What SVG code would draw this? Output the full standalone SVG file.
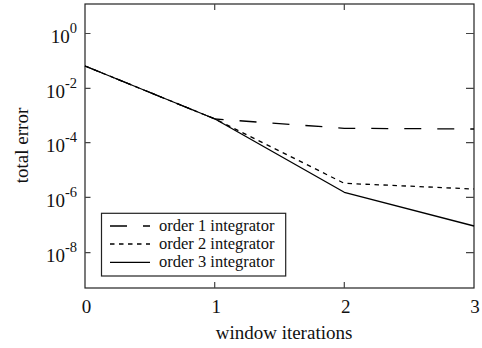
<svg xmlns="http://www.w3.org/2000/svg" width="482" height="348" viewBox="0 0 482 348">
  <style>
    .frame { fill: none; stroke: #222; stroke-width: 1.2; }
    .tick { stroke: #444; stroke-width: 1.2; fill: none; }
    .curve { fill: none; stroke: #000; stroke-width: 1.3; stroke-linejoin: round; }
    .o1 { stroke-dasharray: 17 16; }
    .o2 { stroke-dasharray: 4.5 4.5; }
    .lbl { font-family: "Liberation Serif", "Times New Roman", serif; font-size: 19px; fill: #111; }
    .leg { font-family: "Liberation Serif", "Times New Roman", serif; font-size: 16.5px; fill: #111; }
  </style>
  <rect width="482" height="348" fill="#fff"/>

  <!-- plot frame with inward ticks -->
  <g id="axes">
    <rect class="frame" x="85" y="4" width="389" height="284"/>
    <path class="tick" d="M85 33.5h5.5M85 88.3h5.5M85 142.7h5.5M85 197.3h5.5M85 252.7h5.5
                          M474 33.5h-8M474 88.3h-8M474 142.7h-8M474 197.3h-8M474 252.7h-8
                          M214.7 288v-6M344.3 288v-6M214.7 4v6M344.3 4v6"/>
  </g>

  <!-- axis numbers and titles -->
  <g id="labels">
    <text class="lbl" x="77" y="43.3" text-anchor="end">10<tspan dy="-10" font-size="14.5">0</tspan></text>
    <text class="lbl" x="77" y="97.8" text-anchor="end">10<tspan dy="-10" font-size="14.5">-2</tspan></text>
    <text class="lbl" x="77" y="151.7" text-anchor="end">10<tspan dy="-10" font-size="14.5">-4</tspan></text>
    <text class="lbl" x="77" y="206.5" text-anchor="end">10<tspan dy="-10" font-size="14.5">-6</tspan></text>
    <text class="lbl" x="77" y="261.8" text-anchor="end">10<tspan dy="-10" font-size="14.5">-8</tspan></text>
    <text class="lbl" x="86.5" y="313" text-anchor="middle">0</text>
    <text class="lbl" x="216.2" y="313" text-anchor="middle">1</text>
    <text class="lbl" x="345.8" y="313" text-anchor="middle">2</text>
    <text class="lbl" x="475" y="313" text-anchor="middle">3</text>
    <text class="lbl" x="284" y="339" text-anchor="middle">window iterations</text>
    <text class="lbl" transform="translate(28 145.5) rotate(-90)" text-anchor="middle">total error</text>
  </g>

  <!-- error curves -->
  <g id="connectors">
    <polyline class="curve" points="85,66 215,119 344.3,192.3 474,226"/>
    <polyline class="curve o2" points="85,66 215,119 344.3,183.3 474,189"/>
    <polyline class="curve o1" points="85,66 215,119 344.3,128.3 474,129"/>
  </g>

  <!-- legend -->
  <g id="legend">
    <rect x="101.5" y="213.3" width="184.2" height="62.7" fill="#fff" stroke="#222" stroke-width="1.2"/>
    <line class="curve o1" x1="110" y1="226" x2="150" y2="226"/>
    <line class="curve o2" x1="110" y1="244" x2="150" y2="244"/>
    <line class="curve" x1="110" y1="262.3" x2="150" y2="262.3"/>
    <text class="leg" x="159" y="230.5">order 1 integrator</text>
    <text class="leg" x="159" y="248.5">order 2 integrator</text>
    <text class="leg" x="159" y="266.5">order 3 integrator</text>
  </g>
</svg>
